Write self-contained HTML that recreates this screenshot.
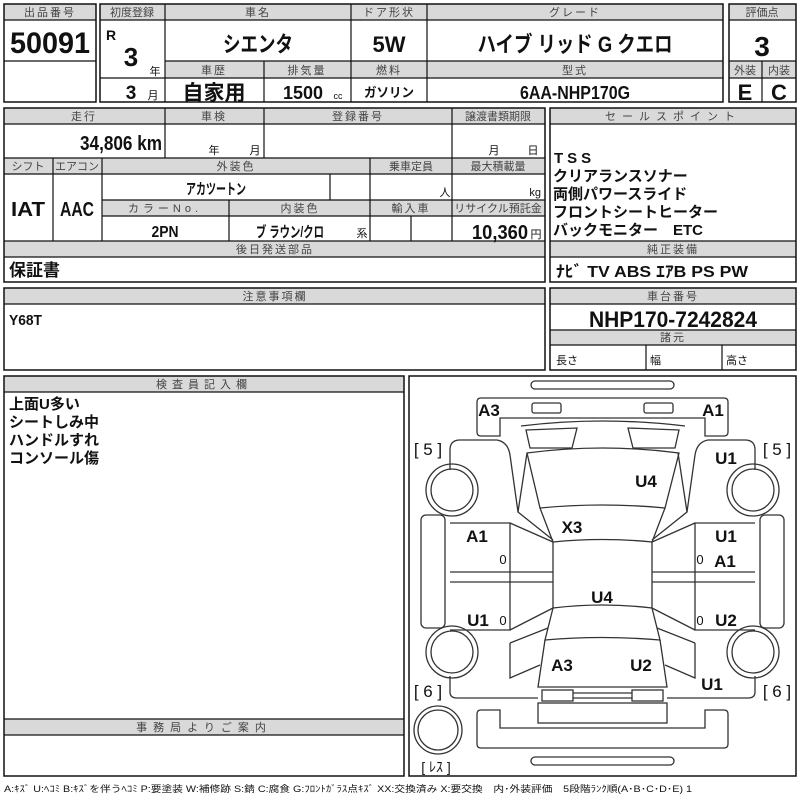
<!DOCTYPE html>
<html><head><meta charset="utf-8"><style>
html,body{margin:0;padding:0;background:#fff;}
svg{display:block;}
text{font-family:"Liberation Sans","Noto Sans CJK JP",sans-serif;fill:#111;}
.h{font-size:11px;fill:#444;text-anchor:middle;letter-spacing:2px;}
.b{font-weight:bold;}
.c{text-anchor:middle;}
.e{text-anchor:end;}
.hd{fill:#d9d9d9;}
.bx{fill:none;stroke:#111;stroke-width:1.5;}
.ln{stroke:#111;stroke-width:1.2;}
.d{fill:none;stroke:#333;stroke-width:1.3;}
.lb{font-size:17px;font-weight:bold;text-anchor:middle;}
</style></head><body>
<svg width="800" height="800" viewBox="0 0 800 800" xmlns="http://www.w3.org/2000/svg">
<!-- block 1 -->
<rect class="hd" x="4" y="4" width="92" height="16"/>
<rect class="bx" x="4" y="4" width="92" height="98"/>
<line class="ln" x1="4" y1="20" x2="96" y2="20"/><line class="ln" x1="4" y1="61" x2="96" y2="61"/>
<text class="h" x="50" y="16">出品番号</text>
<text class="b c" x="50" y="53" font-size="30" textLength="80" lengthAdjust="spacingAndGlyphs">50091</text>

<!-- block 2 -->
<rect class="hd" x="100" y="4" width="623" height="16"/>
<rect class="hd" x="165" y="61" width="558" height="17"/>
<rect class="bx" x="100" y="4" width="623" height="98"/>
<line class="ln" x1="100" y1="20" x2="723" y2="20"/>
<line class="ln" x1="165" y1="61" x2="723" y2="61"/>
<line class="ln" x1="100" y1="78" x2="723" y2="78"/>
<line class="ln" x1="165" y1="4" x2="165" y2="102"/>
<line class="ln" x1="351" y1="4" x2="351" y2="102"/>
<line class="ln" x1="427" y1="4" x2="427" y2="102"/>
<line class="ln" x1="264" y1="61" x2="264" y2="102"/>
<text class="h" x="132" y="16" style="letter-spacing:0">初度登録</text>
<text class="h" x="258" y="16">車名</text>
<text class="h" x="389" y="16">ドア形状</text>
<text class="h" x="575" y="16">グレード</text>
<text class="b" x="106" y="40" font-size="14">R</text>
<text class="b c" x="131" y="66" font-size="26">3</text>
<text x="155" y="75" font-size="11" class="c">年</text>
<text class="b c" x="131" y="99" font-size="19">3</text>
<text x="153" y="99" font-size="11" class="c">月</text>
<text class="b c" x="258" y="52" font-size="22" textLength="70" lengthAdjust="spacingAndGlyphs">シエンタ</text>
<text class="b c" x="389" y="52" font-size="22">5W</text>
<text class="b c" x="575" y="52" font-size="22" textLength="195" lengthAdjust="spacingAndGlyphs">ハイブ リッド G クエロ</text>
<text class="h" x="214" y="74">車歴</text>
<text class="h" x="307" y="74">排気量</text>
<text class="h" x="389" y="74">燃料</text>
<text class="h" x="575" y="74">型式</text>
<text class="b c" x="214" y="100" font-size="21">自家用</text>
<text class="b c" x="303" y="99" font-size="18" textLength="40" lengthAdjust="spacingAndGlyphs">1500</text>
<text x="338" y="99" font-size="9" class="c">cc</text>
<text class="b c" x="389" y="97" font-size="13" textLength="50" lengthAdjust="spacingAndGlyphs">ガソリン</text>
<text class="b c" x="575" y="99" font-size="18" textLength="110" lengthAdjust="spacingAndGlyphs">6AA-NHP170G</text>

<!-- rating -->
<rect class="hd" x="729" y="4" width="67" height="16"/>
<rect class="hd" x="729" y="61" width="67" height="17"/>
<rect class="bx" x="729" y="4" width="67" height="98"/>
<line class="ln" x1="729" y1="20" x2="796" y2="20"/>
<line class="ln" x1="729" y1="61" x2="796" y2="61"/>
<line class="ln" x1="729" y1="78" x2="796" y2="78"/>
<line class="ln" x1="762" y1="61" x2="762" y2="102"/>
<text class="h" x="762" y="16" style="letter-spacing:0">評価点</text>
<text class="b c" x="762" y="56" font-size="28">3</text>
<text class="h" x="745" y="74" style="letter-spacing:0">外装</text>
<text class="h" x="779" y="74" style="letter-spacing:0">内装</text>
<text class="b c" x="745" y="100" font-size="22">E</text>
<text class="b c" x="779" y="100" font-size="22">C</text>

<!-- section 2 left -->
<rect class="hd" x="4" y="108" width="541" height="16"/>
<rect class="hd" x="4" y="158" width="541" height="16"/>
<rect class="hd" x="102" y="200" width="443" height="16"/>
<rect class="hd" x="4" y="241" width="541" height="16"/>
<rect class="bx" x="4" y="108" width="541" height="174"/>
<line class="ln" x1="4" y1="124" x2="545" y2="124"/>
<line class="ln" x1="4" y1="158" x2="545" y2="158"/>
<line class="ln" x1="4" y1="174" x2="545" y2="174"/>
<line class="ln" x1="102" y1="200" x2="545" y2="200"/>
<line class="ln" x1="102" y1="216" x2="545" y2="216"/>
<line class="ln" x1="4" y1="241" x2="545" y2="241"/>
<line class="ln" x1="4" y1="257" x2="545" y2="257"/>
<line class="ln" x1="165" y1="108" x2="165" y2="158"/>
<line class="ln" x1="264" y1="108" x2="264" y2="158"/>
<line class="ln" x1="452" y1="108" x2="452" y2="241"/>
<line class="ln" x1="53" y1="158" x2="53" y2="241"/>
<line class="ln" x1="102" y1="158" x2="102" y2="241"/>
<line class="ln" x1="370" y1="158" x2="370" y2="241"/>
<line class="ln" x1="330" y1="174" x2="330" y2="200"/>
<line class="ln" x1="229" y1="200" x2="229" y2="241"/>
<line class="ln" x1="411" y1="216" x2="411" y2="241"/>
<text class="h" x="84" y="120">走行</text>
<text class="h" x="214" y="120">車検</text>
<text class="h" x="358" y="120">登録番号</text>
<text class="h" x="498" y="120" style="letter-spacing:0">譲渡書類期限</text>
<text class="b e" x="162" y="150" font-size="20" textLength="82" lengthAdjust="spacingAndGlyphs">34,806 km</text>
<text x="214" y="154" font-size="11" class="c">年</text>
<text x="255" y="154" font-size="11" class="c">月</text>
<text x="494" y="154" font-size="11" class="c">月</text>
<text x="533" y="154" font-size="11" class="c">日</text>
<text class="h" x="28" y="170" style="letter-spacing:0">シフト</text>
<text class="h" x="77" y="170" style="letter-spacing:0">エアコン</text>
<text class="h" x="236" y="170">外装色</text>
<text class="h" x="411" y="170" style="letter-spacing:0">乗車定員</text>
<text class="h" x="498" y="170" style="letter-spacing:0">最大積載量</text>
<text class="b c" x="28" y="216" font-size="20" textLength="34" lengthAdjust="spacingAndGlyphs">IAT</text>
<text class="b c" x="77" y="216" font-size="20" textLength="34" lengthAdjust="spacingAndGlyphs">AAC</text>
<text class="b c" x="216" y="194" font-size="15" textLength="60" lengthAdjust="spacingAndGlyphs">アカツートン</text>
<text x="445" y="196" font-size="11" class="c">人</text>
<text x="541" y="196" font-size="11" class="e">kg</text>
<text class="h" x="165" y="212" style="letter-spacing:4px">カラーNo.</text>
<text class="h" x="300" y="212">内装色</text>
<text class="h" x="411" y="212">輸入車</text>
<text class="h" x="498" y="212" style="letter-spacing:0">リサイクル預託金</text>
<text class="b c" x="165" y="237" font-size="16" textLength="27" lengthAdjust="spacingAndGlyphs">2PN</text>
<text class="b c" x="290" y="237" font-size="15" textLength="68" lengthAdjust="spacingAndGlyphs">ブ ラウン/クロ</text>
<text x="362" y="237" font-size="11" class="c">系</text>
<text class="b e" x="528" y="239" font-size="20" textLength="56" lengthAdjust="spacingAndGlyphs">10,360</text>
<text x="536" y="238" font-size="11" class="c">円</text>
<text class="h" x="275" y="253">後日発送部品</text>
<text class="b" x="9" y="276" font-size="17">保証書</text>

<!-- section 2 right -->
<rect class="hd" x="550" y="108" width="246" height="16"/>
<rect class="hd" x="550" y="241" width="246" height="16"/>
<rect class="bx" x="550" y="108" width="246" height="174"/>
<line class="ln" x1="550" y1="124" x2="796" y2="124"/>
<line class="ln" x1="550" y1="241" x2="796" y2="241"/>
<line class="ln" x1="550" y1="257" x2="796" y2="257"/>
<text class="h" x="673" y="120" style="letter-spacing:6px">セールスポイント</text>
<text class="b" x="554" y="163" font-size="15" style="letter-spacing:4px">TSS</text>
<text class="b" x="553" y="181" font-size="15">クリアランスソナー</text>
<text class="b" x="553" y="199" font-size="15">両側パワースライド</text>
<text class="b" x="553" y="217" font-size="15">フロントシートヒーター</text>
<text class="b" x="553" y="235" font-size="15">バックモニター　ETC</text>
<text class="h" x="673" y="253">純正装備</text>
<text class="b" x="556" y="277" font-size="16" textLength="192" lengthAdjust="spacingAndGlyphs">ﾅﾋﾞ  TV  ABS ｴｱB PS PW</text>

<!-- section 3 -->
<rect class="hd" x="4" y="288" width="541" height="16"/>
<rect class="bx" x="4" y="288" width="541" height="82"/>
<line class="ln" x1="4" y1="304" x2="545" y2="304"/>
<text class="h" x="275" y="300">注意事項欄</text>
<text class="b" x="9" y="325" font-size="15" textLength="33" lengthAdjust="spacingAndGlyphs">Y68T</text>
<rect class="hd" x="550" y="288" width="246" height="16"/>
<rect class="hd" x="550" y="330" width="246" height="15"/>
<rect class="bx" x="550" y="288" width="246" height="82"/>
<line class="ln" x1="550" y1="304" x2="796" y2="304"/>
<line class="ln" x1="550" y1="330" x2="796" y2="330"/>
<line class="ln" x1="550" y1="345" x2="796" y2="345"/>
<line class="ln" x1="646" y1="345" x2="646" y2="370"/>
<line class="ln" x1="722" y1="345" x2="722" y2="370"/>
<text class="h" x="673" y="300">車台番号</text>
<text class="b c" x="673" y="327" font-size="22" textLength="168" lengthAdjust="spacingAndGlyphs">NHP170-7242824</text>
<text class="h" x="673" y="341">諸元</text>
<text x="556" y="364" font-size="11">長さ</text>
<text x="650" y="364" font-size="11">幅</text>
<text x="726" y="364" font-size="11">高さ</text>

<!-- section 4 left -->
<rect class="hd" x="4" y="376" width="400" height="16"/>
<rect class="hd" x="4" y="719" width="400" height="16"/>
<rect class="bx" x="4" y="376" width="400" height="400"/>
<line class="ln" x1="4" y1="392" x2="404" y2="392"/>
<line class="ln" x1="4" y1="719" x2="404" y2="719"/>
<line class="ln" x1="4" y1="735" x2="404" y2="735"/>
<text class="h" x="204" y="388" style="letter-spacing:5px">検査員記入欄</text>
<text class="h" x="204" y="731" style="letter-spacing:6px">事務局よりご案内</text>
<text class="b" x="9" y="409" font-size="15">上面U多い</text>
<text class="b" x="9" y="427" font-size="15">シートしみ中</text>
<text class="b" x="9" y="445" font-size="15">ハンドルすれ</text>
<text class="b" x="9" y="463" font-size="15">コンソール傷</text>

<!-- diagram -->
<rect class="bx" x="409" y="376" width="387" height="400"/>
<g class="d">
<rect x="531" y="381" width="143" height="8" rx="4"/>
<rect x="531" y="757" width="143" height="8" rx="4"/>
<path d="M481,398 L724,398 Q728,398 728,402 L728,432 Q728,436 724,436 L705,436 L705,418 L500,418 L500,436 L481,436 Q477,436 477,432 L477,402 Q477,398 481,398 Z"/>
<path d="M481,710 L500,710 L500,728 L705,728 L705,710 L724,710 Q728,710 728,714 L728,744 Q728,748 724,748 L481,748 Q477,748 477,744 L477,714 Q477,710 481,710 Z"/>
<path d="M521,426 Q602,416 685,426"/>
<path d="M527,453 Q602,443 679,453 L665,508 Q602,502 540,508 Z"/>
<path d="M540,508 L553,542 Q602,537 652,542 L665,508"/>
<path d="M553,542 L553,608 Q602,602 652,608 L652,542"/>
<path d="M553,608 L545,640 Q602,635 660,640 L652,608"/>
<path d="M545,640 L538,687 L667,687 L660,640"/>
<rect x="538" y="703" width="129" height="20"/>
<line x1="573" y1="693" x2="632" y2="693"/><line x1="573" y1="698" x2="632" y2="698"/>
<rect x="542" y="690" width="31" height="11"/><rect x="632" y="690" width="31" height="11"/>
<circle cx="438" cy="730" r="24"/><circle cx="438" cy="730" r="20"/>
<g id="half">
<rect x="532" y="403" width="29" height="10" rx="2"/>
<path d="M526,430 L577,428 L572,448 L530,448 Z"/>
<path d="M450,470 L450,450 Q450,440 460,440 L497,440 Q508,442 510,455 L518,512 L553,540"/>
<line x1="518" y1="512" x2="527" y2="453"/>
<circle cx="452" cy="490" r="26"/><circle cx="452" cy="490" r="21"/>
<circle cx="452" cy="652" r="26"/><circle cx="452" cy="652" r="21"/>
<rect x="421" y="515" width="24" height="113" rx="5"/>
<path d="M450,523 L510,523 L510,630 L450,630"/>
<line x1="450" y1="572" x2="553" y2="572"/><line x1="450" y1="582" x2="553" y2="582"/>
<line x1="510" y1="523" x2="553" y2="542"/>
<line x1="510" y1="630" x2="553" y2="608"/>
<path d="M510,643 L548,628 M510,643 L510,678 L540,665"/>
<path d="M450,676 L450,692 Q450,698 457,698 L538,698"/>
</g>
<use href="#half" transform="translate(1205,0) scale(-1,1)"/>
</g>
<text class="lb" x="489" y="416">A3</text>
<text class="lb" x="713" y="416">A1</text>
<text x="428" y="455" font-size="17" class="c b" style="font-weight:normal">[ 5 ]</text>
<text x="777" y="455" font-size="17" class="c">[ 5 ]</text>
<text class="lb" x="726" y="464">U1</text>
<text class="lb" x="646" y="487">U4</text>
<text class="lb" x="572" y="533">X3</text>
<text class="lb" x="477" y="542">A1</text>
<text x="503" y="564" font-size="13" class="c">0</text>
<text class="lb" x="726" y="542">U1</text>
<text x="700" y="564" font-size="13" class="c">0</text>
<text class="lb" x="725" y="567">A1</text>
<text class="lb" x="602" y="603">U4</text>
<text class="lb" x="478" y="626">U1</text>
<text x="503" y="625" font-size="13" class="c">0</text>
<text x="700" y="625" font-size="13" class="c">0</text>
<text class="lb" x="726" y="626">U2</text>
<text class="lb" x="562" y="671">A3</text>
<text class="lb" x="641" y="671">U2</text>
<text class="lb" x="712" y="690">U1</text>
<text x="428" y="697" font-size="17" class="c">[ 6 ]</text>
<text x="777" y="697" font-size="17" class="c">[ 6 ]</text>
<text x="436" y="772" font-size="14" class="c">[ ﾚｽ ]</text>

<text x="4" y="792" font-size="9" fill="#222" textLength="688" lengthAdjust="spacingAndGlyphs">A:ｷｽﾞ U:ﾍｺﾐ B:ｷｽﾞを伴うﾍｺﾐ P:要塗装 W:補修跡 S:錆 C:腐食 G:ﾌﾛﾝﾄｶﾞﾗｽ点ｷｽﾞ XX:交換済み X:要交換　内･外装評価　5段階ﾗﾝｸ順(A･B･C･D･E) 1</text>
</svg>
</body></html>
